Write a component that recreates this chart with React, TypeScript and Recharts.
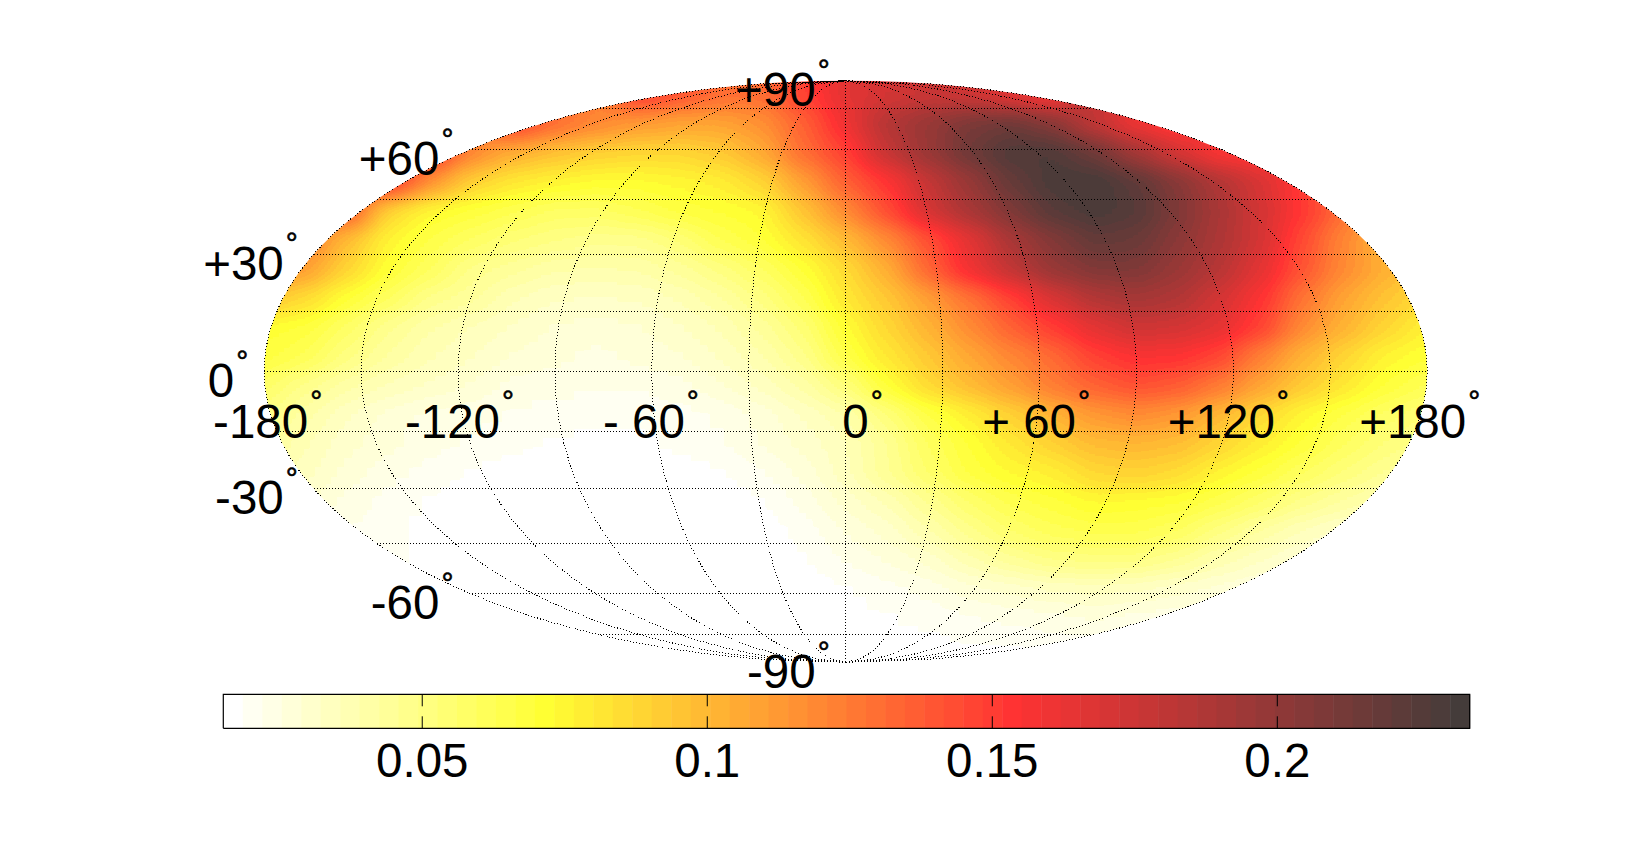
import React from "react";
import { ScatterChart, Scatter, XAxis, YAxis } from "recharts";

// ---- Field values: one list per map row, from top to bottom.
// Each list is centred on the central meridian; neighbouring entries are 1/14 of the half width apart.
const rowP95 = [0.15,0.14,0.13,0.13,0.148,0.165,0.172,0.176,0.175,0.165,0.155];
const rowP85 = [0.15,0.13,0.12,0.112,0.108,0.108,0.115,0.135,0.16,0.185,0.198,0.21,0.215,0.205,0.18,0.16,0.15];
const rowP75 = [0.155,0.12,0.103,0.096,0.09,0.087,0.087,0.092,0.105,0.13,0.148,0.178,0.197,0.215,0.228,0.228,0.215,0.193,0.172,0.155,0.15];
const rowP65 = [0.155,0.115,0.09,0.08,0.075,0.072,0.072,0.074,0.078,0.088,0.11,0.135,0.153,0.178,0.198,0.218,0.23,0.232,0.222,0.205,0.187,0.17,0.15];
const rowP55 = [0.14,0.088,0.073,0.068,0.063,0.058,0.058,0.062,0.067,0.07,0.073,0.095,0.118,0.143,0.172,0.19,0.208,0.224,0.23,0.225,0.208,0.19,0.172,0.152,0.13];
const rowP45 = [0.125,0.098,0.075,0.066,0.059,0.053,0.049,0.047,0.047,0.053,0.063,0.069,0.082,0.098,0.118,0.142,0.165,0.19,0.206,0.219,0.217,0.203,0.188,0.172,0.145,0.12,0.1];
const rowP35 = [0.12,0.11,0.088,0.07,0.06,0.048,0.043,0.039,0.038,0.039,0.043,0.05,0.059,0.07,0.085,0.103,0.133,0.16,0.18,0.198,0.207,0.208,0.197,0.184,0.165,0.14,0.118,0.103,0.09];
const rowP25 = [0.095,0.085,0.07,0.06,0.048,0.043,0.036,0.032,0.031,0.032,0.036,0.042,0.05,0.062,0.08,0.093,0.11,0.128,0.148,0.17,0.186,0.192,0.187,0.172,0.155,0.127,0.108,0.095,0.085];
const rowP15 = [0.072,0.068,0.058,0.046,0.039,0.035,0.031,0.028,0.027,0.028,0.031,0.036,0.043,0.054,0.072,0.087,0.102,0.118,0.135,0.15,0.165,0.175,0.172,0.165,0.148,0.118,0.102,0.088,0.076];
const rowP05 = [0.068,0.062,0.05,0.042,0.036,0.032,0.028,0.026,0.024,0.026,0.028,0.032,0.038,0.048,0.066,0.08,0.093,0.107,0.12,0.132,0.148,0.156,0.155,0.146,0.122,0.102,0.088,0.075,0.07];
const rowM05 = [0.058,0.048,0.04,0.035,0.031,0.028,0.024,0.023,0.022,0.022,0.024,0.028,0.033,0.04,0.052,0.07,0.086,0.098,0.11,0.124,0.135,0.142,0.138,0.125,0.108,0.092,0.08,0.069,0.062];
const rowM15 = [0.05,0.04,0.032,0.027,0.024,0.023,0.021,0.02,0.019,0.019,0.02,0.022,0.026,0.032,0.038,0.052,0.066,0.078,0.09,0.102,0.113,0.118,0.113,0.1,0.086,0.074,0.066,0.058,0.052];
const rowM25 = [0.045,0.036,0.03,0.026,0.023,0.021,0.019,0.018,0.017,0.017,0.019,0.021,0.025,0.03,0.035,0.045,0.06,0.07,0.08,0.09,0.098,0.1,0.097,0.088,0.078,0.069,0.06,0.052,0.047];
const rowM35 = [0.04,0.033,0.027,0.023,0.02,0.018,0.016,0.015,0.015,0.015,0.016,0.018,0.021,0.026,0.034,0.045,0.056,0.067,0.073,0.078,0.087,0.09,0.085,0.075,0.068,0.06,0.052,0.045,0.04];
const rowM45 = [0.03,0.024,0.02,0.018,0.016,0.015,0.015,0.015,0.015,0.015,0.016,0.018,0.023,0.03,0.036,0.046,0.056,0.064,0.068,0.073,0.072,0.07,0.064,0.056,0.048,0.042,0.036];
const rowM55 = [0.022,0.019,0.017,0.015,0.015,0.015,0.015,0.015,0.015,0.015,0.016,0.019,0.025,0.03,0.038,0.048,0.056,0.061,0.064,0.064,0.06,0.05,0.042,0.035,0.03];
const rowM65 = [0.019,0.017,0.015,0.015,0.015,0.015,0.015,0.015,0.015,0.016,0.018,0.022,0.025,0.03,0.037,0.044,0.049,0.05,0.05,0.045,0.037,0.032,0.027];
const rowM75 = [0.017,0.016,0.015,0.015,0.015,0.015,0.015,0.015,0.015,0.016,0.018,0.02,0.023,0.027,0.03,0.032,0.033,0.032,0.03,0.027,0.024];
const rowM85 = [0.016,0.015,0.015,0.015,0.015,0.015,0.015,0.016,0.017,0.018,0.019,0.021,0.023,0.024,0.025,0.024,0.023];
const rowM95 = [0.016,0.016,0.016,0.016,0.016,0.016,0.017,0.017,0.018,0.018,0.019];

const mapRows = [rowP95,rowP85,rowP75,rowP65,rowP55,rowP45,rowP35,rowP25,rowP15,rowP05,rowM05,rowM15,rowM25,rowM35,rowM45,rowM55,rowM65,rowM75,rowM85,rowM95];
const rowHeights = [0.95,0.85,0.75,0.65,0.55,0.45,0.35,0.25,0.15,0.05,-0.05,-0.15,-0.25,-0.35,-0.45,-0.55,-0.65,-0.75,-0.85,-0.95];

// ---- Graticule and labels
const meridians = [-180,-150,-120,-90,-60,-30,0,30,60,90,120,150,180];
const parallels = [-75,-60,-45,-30,-15,0,15,30,45,60,75];
const latTicks = [90,60,30,0,-30,-60,-90];
const latTickLabels = ["+90","+60","+30","0","-30","-60","-90"];
const lonTicks = [-180,-120,-60,0,60,120,180];
const lonTickLabels = ["-180","-120","- 60","0","+ 60","+120","+180"];

// ---- Colour bar
const barMin = 0.0151;
const barMax = 0.23375;
const barTicks = [0.05,0.1,0.15,0.2];
const barTickLabels = ["0.05","0.1","0.15","0.2"];
const colorStops: [number, number[]][] = [[0,[255,255,255]],[16,[255,255,51]],[40,[255,51,51]],[63,[68,60,58]]];
const LEVELS = 64;

// ---- Layout
const W = 1634, H = 841;
const MAP = { left: 264.2, right: 1427.2, top: 80.7, bottom: 662.3 };
const BAR = { left: 223.3, right: 1469.7, top: 694.3, bottom: 728.3 };
const FONT = "'Liberation Sans', Arial, sans-serif";
const labelSize = 47.5;
const degSize = 30;
const latLabelShift = { dx: -30, dy: 25.5 };
const lonLabelDx = [44,42,33,23,36.5,41.5,39];
const lonLabelDy = 66;

const levelColor = (i: number) => {
  for (let s = 0; s < colorStops.length - 1; s++) {
    const [a, ca] = colorStops[s];
    const [b, cb] = colorStops[s + 1];
    if (i >= a && i <= b) {
      const t = (i - a) / (b - a);
      return ca.map((c, k) => c + (cb[k] - c) * t);
    }
  }
  return colorStops[colorStops.length - 1][1];
};
const levelColors = Array.from({ length: LEVELS }, (_, i) => levelColor(i));
const table = (k: number) => levelColors.map((c) => (c[k] / 255).toFixed(4)).join(" ");
const rgb = (c: number[]) => `rgb(${c.map(Math.round).join(",")})`;

const theta = (latDeg: number) => {
  const target = Math.PI * Math.sin((latDeg * Math.PI) / 180);
  let t = (latDeg * Math.PI) / 360;
  if (Math.abs(latDeg) === 90) return (latDeg * Math.PI) / 180;
  for (let i = 0; i < 40; i++) t -= (2 * t + Math.sin(2 * t) - target) / (2 + 2 * Math.cos(2 * t));
  return t;
};
const project = (lon: number, lat: number) => {
  const t = theta(lat);
  return { x: (lon / 180) * Math.cos(t), y: Math.sin(t) };
};

const half = (r: number) => (mapRows[r] ? (mapRows[r].length - 1) / 2 : -1);
const heatCells = mapRows.flatMap((row, r) =>
  row.map((v, i) => {
    const k = i - half(r);
    return {
      x: k / 14,
      y: rowHeights[r],
      v,
      openL: i === 0,
      openR: i === row.length - 1,
      openT: Math.abs(k) > half(r - 1),
      openB: Math.abs(k) > half(r + 1),
    };
  })
);

const CELL_W = (MAP.right - MAP.left) / 28;
const CELL_H = (MAP.bottom - MAP.top) / 20;
const EXT = 70;
const HeatCell = (p: any) => {
  const d = p.payload;
  const g = Math.max(0, Math.min(255, (255 * (d.v - barMin)) / (barMax - barMin)));
  const x0 = p.cx - CELL_W / 2 - (d.openL ? EXT : 0) - 0.5;
  const x1 = p.cx + CELL_W / 2 + (d.openR ? EXT : 0) + 0.5;
  const y0 = p.cy - CELL_H / 2 - (d.openT ? EXT : 0) - 0.5;
  const y1 = p.cy + CELL_H / 2 + (d.openB ? EXT : 0) + 0.5;
  return <rect x={x0} y={y0} width={x1 - x0} height={y1 - y0} fill={`rgb(${g},${g},${g})`} />;
};

const latSamples = Array.from({ length: 61 }, (_, i) => -90 + i * 3);
const NoDot = () => <g />;
const dotted = { stroke: "#000", strokeWidth: 1, strokeDasharray: "1 2", shapeRendering: "crispEdges" };

const TickLabel = (p: any) => {
  const d = p.payload;
  const right = p.cx + d.dx;
  const base = p.cy + d.dy;
  return (
    <text x={right + 14} y={base} textAnchor="end" fontFamily={FONT} fontSize={labelSize} fill="#000">
      {d.label}
      <tspan dx={2} dy={-26.2} fontSize={degSize} stroke="#000" strokeWidth={0.6}>°</tspan>
    </text>
  );
};
const latLabelData = latTicks.map((lat, i) => ({ ...project(-180, lat), label: latTickLabels[i], ...latLabelShift }));
const latLabelDataFixed = latLabelData.map((d, i) =>
  Math.abs(latTicks[i]) === 90 ? { ...d, x: 0 } : d
);
const lonLabelData = lonTicks.map((lon, i) => ({ ...project(lon, 0), label: lonTickLabels[i], dx: lonLabelDx[i], dy: lonLabelDy }));

const barLevelWidth = (barMax - barMin) / LEVELS;
const barLevels = levelColors.map((c, i) => ({ x: barMin + (i + 0.5) * barLevelWidth, y: 0.5, level: i }));
const barFrame = [
  { x: barMin, y: 0 },
  { x: barMax, y: 0 },
  { x: barMax, y: 1 },
  { x: barMin, y: 1 },
  { x: barMin, y: 0 },
];
const LEVEL_PX = (BAR.right - BAR.left) / LEVELS;
const BarCell = (p: any) => (
  <rect
    x={p.cx - LEVEL_PX / 2}
    y={BAR.top}
    width={LEVEL_PX + 0.5}
    height={BAR.bottom - BAR.top}
    fill={rgb(levelColors[p.payload.level])}
  />
);

const BarTick = (p: any) => {
  const i = barTicks.indexOf(p.payload.value);
  return (
    <g>
      <line x1={p.x} x2={p.x} y1={BAR.top} y2={BAR.top + 12} stroke="#000" />
      <line x1={p.x} x2={p.x} y1={BAR.bottom - 12} y2={BAR.bottom} stroke="#000" />
      <text x={p.x} y={776.7} textAnchor="middle" fontFamily={FONT} fontSize={labelSize} fill="#000">
        {barTickLabels[i]}
      </text>
    </g>
  );
};

export default function App() {
  return (
    <div style={{ position: "absolute", left: 0, top: 0, width: W, height: H, background: "#fff", overflow: "hidden" }}>
      <style>{`.heat{filter:url(#heatFilter);clip-path:url(#mapClip);}`}</style>
      <div style={{ position: "absolute", left: 0, top: 0 }}>
        <ScatterChart
          width={W}
          height={H}
          margin={{ left: BAR.left, right: W - BAR.right, top: BAR.top, bottom: H - BAR.bottom - 1 }}
        >
          <XAxis
            type="number"
            dataKey="x"
            domain={[barMin, barMax]}
            ticks={barTicks}
            interval={0}
            height={1}
            tick={BarTick}
            tickLine={false}
            axisLine={false}
          />
          <YAxis type="number" dataKey="y" domain={[0, 1]} hide />
          <Scatter data={barLevels} shape={BarCell} isAnimationActive={false} />
          <Scatter
            data={barFrame}
            line={{ stroke: "#000", strokeWidth: 1.2 }}
            shape={NoDot}
            isAnimationActive={false}
          />
        </ScatterChart>
      </div>
      <div style={{ position: "absolute", left: 0, top: 0 }}>
        <ScatterChart
          width={W}
          height={H}
          margin={{ left: MAP.left, right: W - MAP.right, top: MAP.top, bottom: H - MAP.bottom }}
        >
          <defs>
            <clipPath id="mapClip">
              <ellipse
                cx={(MAP.left + MAP.right) / 2}
                cy={(MAP.top + MAP.bottom) / 2}
                rx={(MAP.right - MAP.left) / 2}
                ry={(MAP.bottom - MAP.top) / 2}
              />
            </clipPath>
            <filter id="heatFilter" filterUnits="userSpaceOnUse" x={0} y={0} width={W} height={H} colorInterpolationFilters="sRGB">
              <feGaussianBlur stdDeviation="15 10" />
              <feComponentTransfer>
                <feFuncR type="discrete" tableValues={table(0)} />
                <feFuncG type="discrete" tableValues={table(1)} />
                <feFuncB type="discrete" tableValues={table(2)} />
              </feComponentTransfer>
            </filter>
          </defs>
          <XAxis type="number" dataKey="x" domain={[-1, 1]} hide />
          <YAxis type="number" dataKey="y" domain={[-1, 1]} hide />
          <Scatter className="heat" data={heatCells} shape={HeatCell} isAnimationActive={false} />
          {meridians.map((lon) => (
            <Scatter
              key={`m${lon}`}
              data={latSamples.map((lat) => project(lon, lat))}
              line={dotted}
              shape={NoDot}
              isAnimationActive={false}
            />
          ))}
          {parallels.map((lat) => (
            <Scatter
              key={`p${lat}`}
              data={[project(-180, lat), project(180, lat)]}
              line={dotted}
              shape={NoDot}
              isAnimationActive={false}
            />
          ))}
          <Scatter data={latLabelDataFixed} shape={TickLabel} isAnimationActive={false} />
          <Scatter data={lonLabelData} shape={TickLabel} isAnimationActive={false} />
        </ScatterChart>
      </div>
    </div>
  );
}
